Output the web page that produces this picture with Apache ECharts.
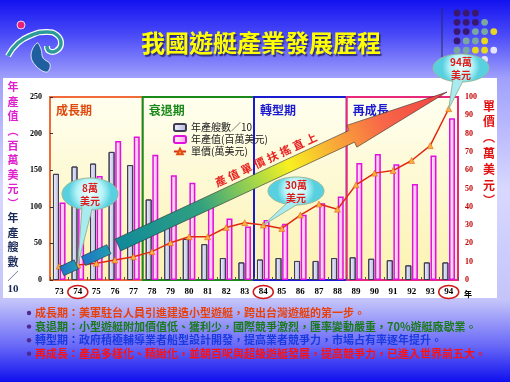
<!DOCTYPE html>
<html><head><meta charset="utf-8">
<script src="https://cdn.jsdelivr.net/npm/echarts@6/dist/echarts.min.js"></script>
<style>
html,body{margin:0;padding:0;}
#c{width:510px;height:382px;background:linear-gradient(to bottom,#1212f0 0px,#4a4af8 35px,#a0a0fc 78px,#d8d8ff 190px,#c4c4fa 300px,#6a6af8 345px,#1010ee 382px);}
</style>
</head><body><div id="c"></div>
<script>
// ---- data ----
const years = ['73','74','75','76','77','78','79','80','81','82','83','84','85','86','87','88','89','90','91','92','93','94'];
const boats = [145,155,159,175,157,110,71,56,49,30,24,28,30,26,26,30,31,29,27,20,24,24];      // 年產艘數/10
const output = [106,115,142,190,196,171,143,133,112,84,73,82,77,89,105,114,160,172,158,131,170,221]; // 年產值(百萬美元)
const price = [7.6,8.2,9.1,10.9,12.7,15.5,20.4,23.6,23.6,28.7,31.3,30,28.2,35.5,41.5,38.7,52,58.4,59.8,65.3,73.4,93.6]; // 單價(萬美元)
const leftAxis = {min:0, max:250, step:50};
const rightAxis = {min:0, max:100, step:10};
const seriesNames = ['年產艘數／10','年產值(百萬美元)','單價(萬美元)'];
const periodNames = ['成長期','衰退期','轉型期','再成長'];
const periodStart = ['73','78','84','89'];
const periodEnd = ['77','83','88','94'];
const circledYears = ['74','84','94'];
const callouts = [['8萬','美元','74'],['30萬','美元','84'],['94萬','美元','94']];
const titleText = '我國遊艇產業發展歷程';
const arrowText = '產值單價扶搖直上';
const leftTitle1 = ['年','產','值','︵','百','萬','美','元','︶'];
const leftTitle2 = ['年','產','艘','數','／'];
const rightTitle = ['單','價','︵','萬','美','元','︶'];
const notes = [
  '成長期：美軍駐台人員引進建造小型遊艇，跨出台灣遊艇的第一步。',
  '衰退期：小型遊艇附加價值低、獲利少，國際競爭激烈，匯率變動嚴重，70%遊艇廠歇業。',
  '轉型期：政府積極輔導業者船型設計開發，提高業者競爭力，市場占有率逐年提升。',
  '再成長：產品多樣化、精緻化，並朝百呎與超級遊艇發展，提高競爭力，已進入世界前五大。'
];

// ---- styles ----
const CJK = "'Noto Sans CJK TC','Noto Sans CJK SC',sans-serif";
const SERIF = "'Liberation Serif','DejaVu Serif',serif";
const PERIOD_BORDER = ['#f06a3a','#1a8a1a','#1a1ad0','#e8287a'];
const PERIOD_TEXT = ['#e04a10','#1a8a1a','#1a1ad0','#1a1ad0'];
const NOTE_COLORS = ['#e8400a','#1a7a1a','#1a3ae0','#ff1010'];

const chart = echarts.init(document.getElementById('c'), null, {renderer:'canvas'});
const grayFill = {type:'linear',x:0,y:0,x2:1,y2:0,colorStops:[{offset:0,color:'#f6f6ff'},{offset:1,color:'#b4b4e0'}]};
const pinkFill = {type:'linear',x:0,y:0,x2:1,y2:0,colorStops:[{offset:0,color:'#ffffff'},{offset:1,color:'#ff9ee0'}]};

chart.setOption({
  animation:false,
  backgroundColor:'transparent',
  grid:{left:50,right:52,top:97,bottom:102,containLabel:false},
  legend:{
    orient:'vertical', left:168, top:117, itemWidth:12, itemHeight:7, itemGap:1,
    textStyle:{fontFamily:CJK, fontSize:10, color:'#222', lineHeight:11},
    data:seriesNames
  },
  xAxis:{type:'category', data:years,
    axisLine:{show:false},
    axisTick:{show:true, inside:true, length:3, lineStyle:{color:'#555'}},
    axisLabel:{margin:7, fontSize:9, fontWeight:'bold', fontFamily:SERIF, color:'#000'}},
  yAxis:[
    {type:'value', min:leftAxis.min, max:leftAxis.max, interval:leftAxis.step,
     splitLine:{show:false}, axisLine:{show:false},
     axisTick:{show:true, inside:true, length:3, lineStyle:{color:'#333'}},
     axisLabel:{margin:8, fontSize:8, fontWeight:'bold', fontFamily:SERIF, color:'#000'}},
    {type:'value', min:rightAxis.min, max:rightAxis.max, interval:rightAxis.step, position:'right',
     splitLine:{show:false},
     axisLine:{show:true, lineStyle:{color:'#e8287a', width:2}},
     axisTick:{show:false},
     axisLabel:{margin:7, fontSize:8, fontWeight:'bold', fontFamily:SERIF, color:'#c00000'}}
  ],
  series:[
    {name:seriesNames[0], type:'bar', data:boats, barWidth:6, barGap:'10%',
     itemStyle:{color:grayFill, borderColor:'#3c3c54', borderWidth:1}},
    {name:seriesNames[1], type:'bar', data:output, barWidth:6,
     itemStyle:{color:pinkFill, borderColor:'#e010e0', borderWidth:1.5}},
    {name:seriesNames[2], type:'line', yAxisIndex:1, data:price, symbol:'triangle', symbolSize:6, z:5,
     lineStyle:{color:'#e02a10', width:1.5},
     itemStyle:{color:'#f8b040', borderColor:'#e05010', borderWidth:0.5}}
  ]
});

// ---- decorations computed from the laid-out axes ----
const px = i => chart.convertToPixel({xAxisIndex:0}, i);
const bw = px(1) - px(0);
const yTop = chart.convertToPixel({yAxisIndex:0}, leftAxis.max);
const yBot = chart.convertToPixel({yAxisIndex:0}, leftAxis.min);
const xRight = px(years.length-1) + bw/2;
const g = [];

g.push({type:'rect', shape:{x:3,y:78,width:494,height:220}, style:{fill:'#ffffff'}, z:-5});

// logo
g.push({type:'circle', shape:{cx:21,cy:25,r:4}, style:{fill:'#e8207a', stroke:'#ffffff', lineWidth:0.8}, z:1});
const swirl = [[8,56],[18,43],[32,35],[46,32],[57,35],[61,44],[56,51],[49,51],[47,46]];
g.push({type:'polyline', shape:{points:swirl, smooth:0.5}, style:{fill:'none', stroke:'#ffffff', lineWidth:6}, z:1});
g.push({type:'polyline', shape:{points:swirl, smooth:0.5}, style:{fill:'none', stroke:'#2a9a9a', lineWidth:3.5}, z:1});
g.push({type:'polygon', shape:{points:[[37,43],[31,55],[36,66],[47,72],[50,64],[43,58],[41,49]], smooth:0.4}, style:{fill:'#1f5f9f', stroke:'#ffffff', lineWidth:0.8}, z:1});

// dots grid
const DOT = {p:'#3a1870', t:'#7aa8a0', y:'#e8d820', w:'#e4e4fa'};
['ppp','pppt','pptty','ptty','ttyyw','   w'].forEach((row,j)=>{
  row.split('').forEach((c,i)=>{
    if (DOT[c]) g.push({type:'circle', shape:{cx:457+9.2*i, cy:13+9.3*j, r:3.4}, style:{fill:DOT[c]}, z:1});
  });
});
g.push({type:'line', shape:{x1:442,y1:8,x2:442,y2:58}, style:{stroke:'#2a2a60', lineWidth:1}, z:1});

// title
g.push({type:'text', x:261, y:43, style:{text:titleText, fill:'#ffff00', fontSize:24, fontWeight:'bold', fontFamily:CJK,
  align:'center', verticalAlign:'middle', textShadowColor:'rgba(30,30,90,0.8)', textShadowOffsetX:1.5, textShadowOffsetY:1.5, textShadowBlur:1}, z:2});

// period boxes
periodNames.forEach((nm,k)=>{
  const i1 = years.indexOf(periodStart[k]), i2 = years.indexOf(periodEnd[k]);
  const x1 = px(i1) - bw/2, x2 = px(i2) + bw/2;
  g.push({type:'rect', shape:{x:x1,y:yTop,width:x2-x1,height:yBot-yTop},
    style:{fill:{type:'linear',x:0,y:0,x2:0,y2:1,colorStops:[{offset:0,color:'#fffff0'},{offset:1,color:'#fbf2b0'}]},
      stroke:PERIOD_BORDER[k], lineWidth:2}, z:0});
  g.push({type:'text', x:x1+6, y:yTop+13, style:{text:nm, fill:PERIOD_TEXT[k], fontSize:12, fontWeight:'bold', fontFamily:CJK, verticalAlign:'middle'}, z:1});
});

// circled year labels
circledYears.forEach(y=>{
  const i = years.indexOf(y);
  g.push({type:'ellipse', shape:{cx:px(i), cy:yBot+12, rx:10, ry:6.5}, style:{fill:'none', stroke:'#d01818', lineWidth:1.5}, z:3});
});
g.push({type:'text', x:xRight+6, y:yBot+14, style:{text:'年', fill:'#000', fontSize:8, fontWeight:'bold', fontFamily:CJK, verticalAlign:'middle'}, z:3});

// axis titles
leftTitle1.forEach((c,i)=>g.push({type:'text', x:13, y:87+14.6*i, style:{text:c, fill:'#e020d0', fontSize:11, fontWeight:'bold', fontFamily:CJK, align:'center', verticalAlign:'middle'}, z:3}));
leftTitle2.forEach((c,i)=>g.push({type:'text', x:13, y:218+14.5*i, style:{text:c, fill:'#1a2a5a', fontSize:11, fontWeight:'bold', fontFamily:CJK, align:'center', verticalAlign:'middle'}, z:3}));
g.push({type:'text', x:13, y:289, style:{text:'10', fill:'#1a2a5a', fontSize:11, fontWeight:'bold', fontFamily:SERIF, align:'center', verticalAlign:'middle'}, z:3});
rightTitle.forEach((c,i)=>g.push({type:'text', x:489, y:106+15.8*i, style:{text:c, fill:'#e01010', fontSize:12, fontWeight:'bold', fontFamily:CJK, align:'center', verticalAlign:'middle'}, z:3}));

// big arrow
const P0 = [118,245], T = [447,92];
const L = Math.hypot(T[0]-P0[0], T[1]-P0[1]);
const u = [(T[0]-P0[0])/L, (T[1]-P0[1])/L], n = [-u[1], u[0]];
const at = (s,o)=>[P0[0]+u[0]*s+n[0]*o, P0[1]+u[1]*s+n[1]*o];
const headS = L-105, h = 6.5, H = 12;
const arrowGrad = {type:'linear', x:P0[0], y:P0[1], x2:T[0], y2:T[1], global:true, colorStops:[
  {offset:0,color:'#108a9a'},{offset:0.25,color:'#30a080'},{offset:0.42,color:'#a8d848'},{offset:0.52,color:'#f8f020'},
  {offset:0.66,color:'#f8a838'},{offset:0.8,color:'#f86848'},{offset:1,color:'#f04040'}]};
g.push({type:'polygon', shape:{points:[at(0,-h),at(headS,-h),at(headS,-H),T,at(headS,H),at(headS,h),at(0,h)]},
  style:{fill:arrowGrad, stroke:'#303030', lineWidth:0.6}, z:8});
[[-62,-46],[-38,-10]].forEach(([a,b])=>{
  g.push({type:'polygon', shape:{points:[at(a,-5),at(b,-5),at(b,5),at(a,5)]},
    style:{fill:{type:'linear',x:0,y:0,x2:1,y2:0,colorStops:[{offset:0,color:'#2070c8'},{offset:1,color:'#20a0b0'}]}, stroke:'#203040', lineWidth:0.6}, z:8});
});
arrowText.split('').forEach((c,i)=>{
  const p = at(120+14.3*i, -15);
  g.push({type:'text', x:p[0], y:p[1], rotation:Math.atan2(-u[1],u[0]),
    style:{text:c, fill:'#e82020', fontSize:11, fontWeight:'bold', fontFamily:CJK, align:'center', verticalAlign:'middle'}, z:9});
});

// callouts
const calloutPos = [[90,194,28,16],[296,191,28,14],[461,68,28,14]];
callouts.forEach(([t1,t2,yr],k)=>{
  const i = years.indexOf(yr);
  const tip = chart.convertToPixel({seriesIndex:2}, [i, price[i]]);
  const [cx,cy,rx,ry] = calloutPos[k];
  const b1 = [cx-8, cy+ry-3], b2 = [cx+2, cy+ry-1];
  const fill = {type:'radial', x:0.5, y:0.45, r:0.65, colorStops:[{offset:0,color:'#f0ffff'},{offset:0.6,color:'#b8f4f8'},{offset:1,color:'#58d0e0'}]};
  g.push({type:'ellipse', shape:{cx,cy,rx,ry}, style:{fill, stroke:'#98b898', lineWidth:1}, z:20});
  g.push({type:'polygon', shape:{points:[[b1[0],b1[1]-4],[b2[0],b2[1]-4],b2,tip,b1]}, style:{fill:'#a8ecf2'}, z:21});
  g.push({type:'polyline', shape:{points:[b1,tip,b2]}, style:{fill:'none', stroke:'#98b898', lineWidth:1}, z:21});
  g.push({type:'text', x:cx, y:cy-6, style:{text:t1, fill:'#e01818', fontSize:10, fontWeight:'bold', fontFamily:CJK, align:'center', verticalAlign:'middle'}, z:22});
  g.push({type:'text', x:cx, y:cy+7, style:{text:t2, fill:'#e01818', fontSize:10, fontWeight:'bold', fontFamily:CJK, align:'center', verticalAlign:'middle'}, z:22});
});

// notes
notes.forEach((t,k)=>{
  const y = 313 + 13.6*k;
  g.push({type:'circle', shape:{cx:29, cy:y, r:2.2}, style:{fill:'#502890'}, z:3});
  g.push({type:'text', x:35, y:y, style:{text:t, fill:NOTE_COLORS[k], fontSize:11, fontWeight:'bold', fontFamily:CJK, verticalAlign:'middle'}, z:3});
});

chart.setOption({graphic:{elements:g}});
</script>
</body></html>
